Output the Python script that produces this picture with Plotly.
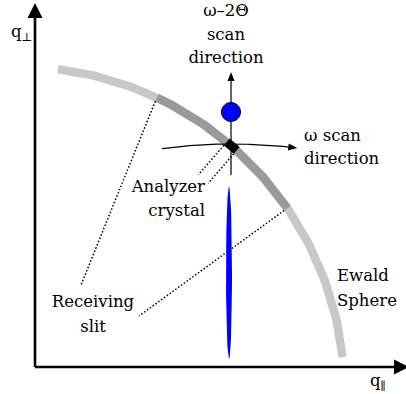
import numpy as np
import plotly.graph_objects as go

# Reciprocal-space diagram: q_parallel / q_perp axes, Ewald sphere, analyzer, peaks
W, H = 406, 394
X_RANGE = [-35, 371]
Y_RANGE = [-27, 367]

# Ewald sphere arc: centre, radius, angular span (deg)
ewald_center = [-16.3, -25.9]
ewald_radius = 326
ewald_span = [6.3, 83.1]
slit_span = [34.5, 64.9]          # part of the sphere seen through the receiving slit
analyzer_angle = 49.2             # analyzer crystal position on the sphere
analyzer_size = [13, 9]           # along / across the sphere

# Diffraction peaks (centre x, centre y, half width, half height)
peak_x = [196, 194]
peak_y = [255, 94]
peak_hw = [9.6, 3.0]
peak_hh = [9.5, 86]

# omega-2theta scan arrow (x, y from, y to)
radial_scan = [196, 192, 295]
# omega scan arc: centre, radius, angular span from vertical (deg)
omega_center = [197, -305]
omega_radius = 528
omega_span = [-7.6, 7.1]

# label anchor points for the receiving-slit leader lines
slit_label_pts = [[46, 82], [104, 51]]
analyzer_leader_len = 39

AXIS_LEN = [374, 364]

# text labels: one entry per line of text
label_text = ["ω–2Θ", "scan", "direction", "ω scan", "direction", "Analyzer", "crystal",
              "Receiving", "slit", "Ewald", "Sphere", "q<sub>⊥</sub>", "q<sub>∥</sub>"]
label_x = [191, 191, 191, 269, 269, 170, 170, 58, 58, 302, 302, -24, 335]
label_y = [355, 331, 308, 230, 207, 179, 155, 64, 39, 90, 65, 334, -15]
label_pos = ["middle center"] * 3 + ["middle right"] * 2 + ["middle left"] * 2 + \
            ["middle center"] * 2 + ["middle right"] * 4

GREY_LIGHT = "#c8c8c8"
GREY_DARK = "#9a9a9a"
BLUE = "#0000ff"
FONT = "DejaVu Serif"


def arc(cx, cy, r, a0, a1, n=120):
    t = np.radians(np.linspace(a0, a1, n))
    return cx + r * np.cos(t), cy + r * np.sin(t)


def arrow_head(tip, direction, length, half):
    d = np.asarray(direction, float)
    d /= np.hypot(*d)
    n = np.array([-d[1], d[0]])
    tip = np.asarray(tip, float)
    base = tip - d * length
    pts = [tip, base + n * half, base - n * half, tip]
    return [p[0] for p in pts], [p[1] for p in pts]


fig = go.Figure()


def add_line(x, y, color="black", width=1.2, dash="solid"):
    fig.add_trace(go.Scatter(x=list(x), y=list(y), mode="lines", hoverinfo="skip",
                             line=dict(color=color, width=width, dash=dash)))


def add_poly(x, y, fill, line_color=None, line_width=0):
    fig.add_trace(go.Scatter(x=list(x), y=list(y), mode="lines", fill="toself",
                             fillcolor=fill, hoverinfo="skip",
                             line=dict(color=line_color or fill, width=line_width)))


# Ewald sphere
cx, cy = ewald_center
ax_, ay_ = arc(cx, cy, ewald_radius, *ewald_span)
add_line(ax_, ay_, GREY_LIGHT, 8.5)
ax_, ay_ = arc(cx, cy, ewald_radius, *slit_span)
add_line(ax_, ay_, GREY_DARK, 8.5)

# receiving-slit leader lines from the slit edges (inner edge of the sphere)
DOT = "1.5px,2px"
for ang, end in zip([slit_span[1], slit_span[0]], slit_label_pts):
    t = np.radians(ang)
    r_in = ewald_radius - 4
    sx, sy = cx + r_in * np.cos(t), cy + r_in * np.sin(t)
    add_line([sx, end[0]], [sy, end[1]], "black", 1.5, DOT)

# omega-2theta scan arrow
rx, ry0, ry1 = radial_scan
add_line([rx, rx], [ry0, ry1 - 8], "black", 1.2)
hx, hy = arrow_head([rx, ry1], [0, 1], 9, 3.5)
add_poly(hx, hy, "black")

# omega scan arrow (arc)
t = np.radians(np.linspace(omega_span[0], omega_span[1], 80))
ox = omega_center[0] + omega_radius * np.sin(t)
oy = omega_center[1] + omega_radius * np.cos(t)
add_line(ox[:-3], oy[:-3], "black", 1.2)
te = t[-1]
hx, hy = arrow_head([ox[-1], oy[-1]], [np.cos(te), -np.sin(te)], 9, 3.5)
add_poly(hx, hy, "black")

# peaks
for px, py, hw, hh in zip(peak_x, peak_y, peak_hw, peak_hh):
    tt = np.linspace(0, 2 * np.pi, 100)
    lw = 1 if hh < 20 else 0
    add_poly(px + hw * np.cos(tt), py + hh * np.sin(tt), BLUE,
             "black" if lw else BLUE, lw)

# analyzer crystal with its leader lines
ta = np.radians(analyzer_angle)
rad = np.array([np.cos(ta), np.sin(ta)])
tan = np.array([-np.sin(ta), np.cos(ta)])
c0 = np.array([cx, cy]) + ewald_radius * rad
L, Wd = analyzer_size
corners = [c0 + s1 * L / 2 * tan + s2 * Wd / 2 * rad
           for s1, s2 in [(1, 1), (-1, 1), (-1, -1), (1, -1), (1, 1)]]
add_poly([p[0] for p in corners], [p[1] for p in corners], "black")
for s1 in (1, -1):
    start = c0 + s1 * L / 2 * tan - Wd / 2 * rad
    end = start - analyzer_leader_len * rad
    add_line([start[0], end[0]], [start[1], end[1]], "black", 1.5, DOT)

# q axes
add_line([0, 0], [0, AXIS_LEN[1] - 12], "black", 2.6)
hx, hy = arrow_head([0, AXIS_LEN[1]], [0, 1], 15, 7.5)
add_poly(hx, hy, "black")
add_line([0, AXIS_LEN[0] - 12], [0, 0], "black", 2.6)
hx, hy = arrow_head([AXIS_LEN[0], 0], [1, 0], 15, 7.5)
add_poly(hx, hy, "black")

# labels
fig.add_trace(go.Scatter(
    x=label_x, y=label_y, text=label_text, mode="text", textposition=label_pos,
    hoverinfo="skip", cliponaxis=False,
    textfont=dict(family=FONT, size=16.5, color="black"),
))

fig.update_layout(
    width=W, height=H, margin=dict(l=0, r=0, t=0, b=0),
    paper_bgcolor="white", plot_bgcolor="white", showlegend=False,
    font=dict(family=FONT, size=16.5, color="black"),
    xaxis=dict(range=X_RANGE, visible=False, fixedrange=True),
    yaxis=dict(range=Y_RANGE, visible=False, fixedrange=True),
)
fig.write_html("out.html")
